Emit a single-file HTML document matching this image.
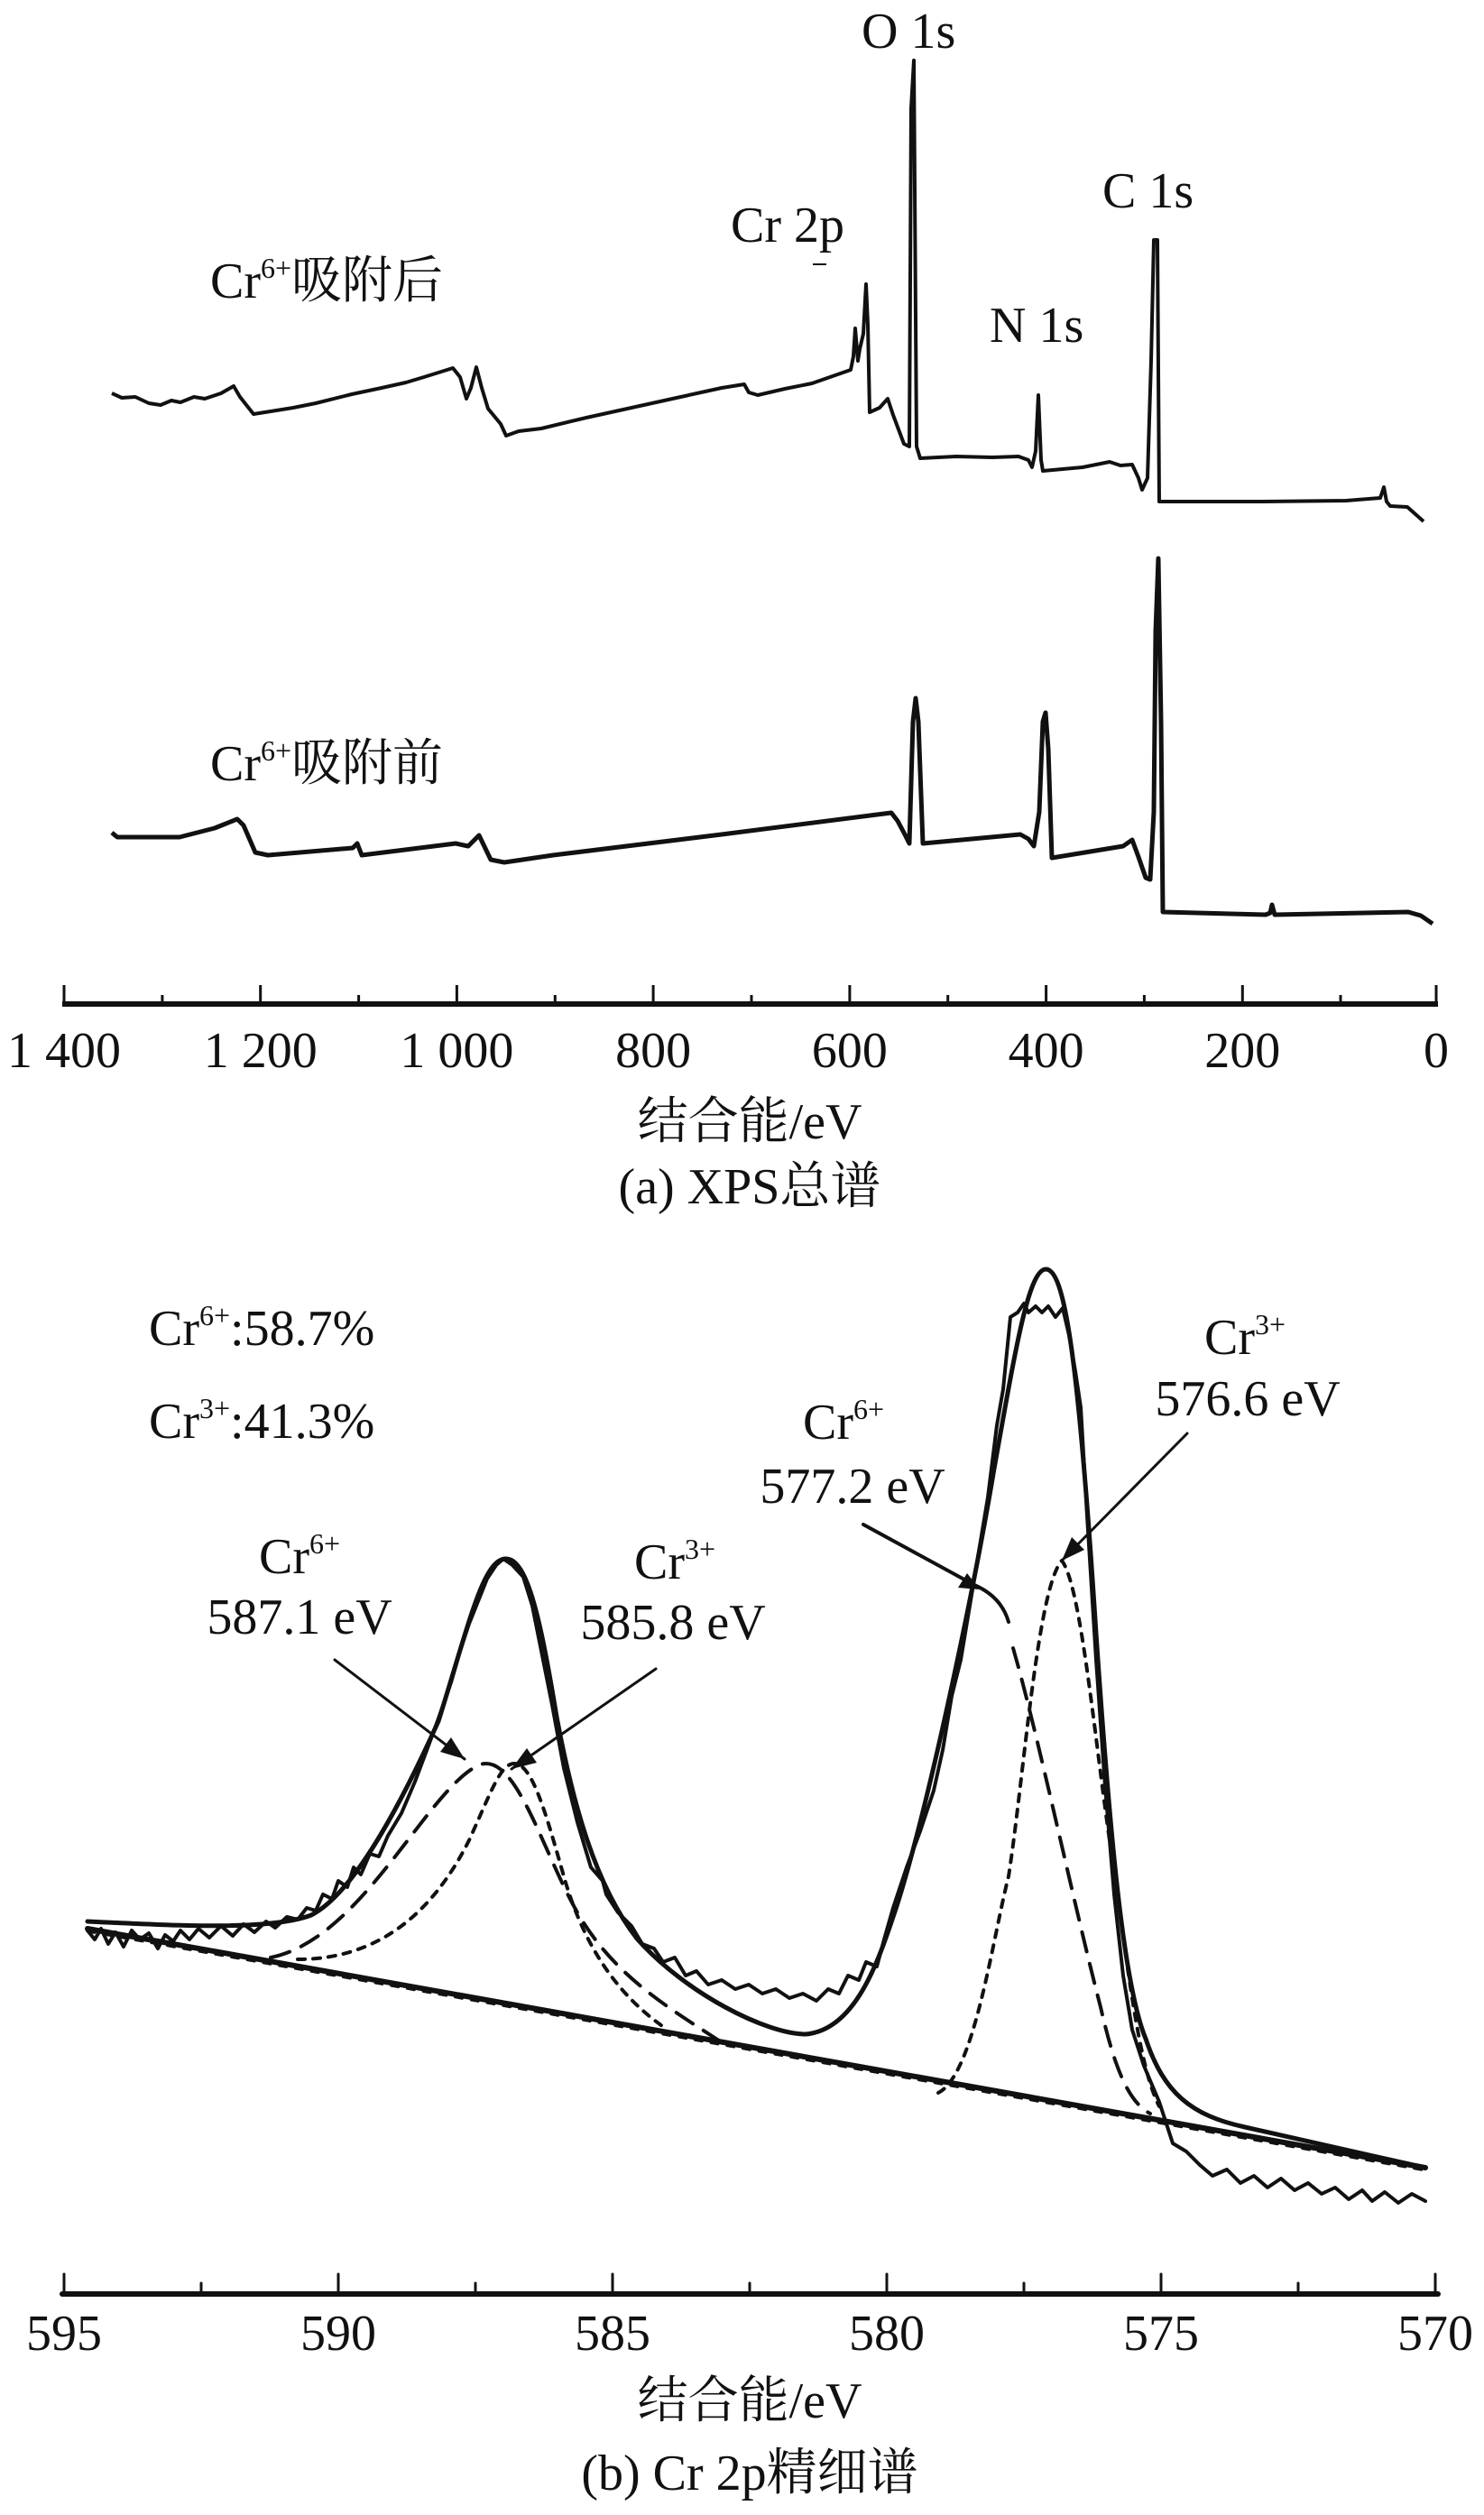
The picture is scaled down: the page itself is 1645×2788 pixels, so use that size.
<!DOCTYPE html>
<html><head><meta charset="utf-8"><style>
html,body{margin:0;padding:0;background:#fff;}
svg{display:block;}
text{font-family:"Liberation Serif","Noto Serif CJK SC","Noto Sans CJK SC",serif;fill:#111;}
</style></head><body>
<svg width="1645" height="2788" viewBox="0 0 1645 2788" xmlns="http://www.w3.org/2000/svg">
<!-- ============ (a) ============ -->
<g fill="none" stroke="#111" stroke-linejoin="round">
<path stroke-width="4" d="M124 436 L135 441 L150 440 L165 447 L178 449 L190 444 L200 446 L215 440 L227 442 L245 436 L259 428 L266 440 L281 459 L300 456 L325 452 L350 447 L390 437 L423 430 L450 424 L470 418 L502 408 L510 418 L517 442 L522 430 L528 407 L534 430 L541 453 L555 470 L561 483 L575 478 L600 475 L650 463 L700 452 L750 441 L800 430 L825 426 L830 435 L840 438 L870 431 L900 425 L943 410 L946 395 L948 364 L951 400 L953 387 L957 370 L960 315 L962 360 L964 457 L975 452 L984 442 L990 460 L1002 492 L1008 495 L1010 120 L1013 67 L1016 495 L1020 508 L1060 506 L1100 507 L1129 506 L1140 510 L1144 518 L1148 500 L1151 438 L1154 510 L1156 522 L1200 518 L1230 512 L1242 516 L1255 515 L1262 530 L1266 543 L1272 530 L1276 400 L1279 266 L1283 266 L1285 556 L1400 556 L1492 555 L1530 552 L1534 540 L1537 556 L1541 561 L1560 562 L1578 578"/>
<path stroke-width="5" d="M124 923 L130 928 L199 928 L238 918 L263 908 L270 915 L283 945 L297 948 L391 940 L396 935 L401 948 L505 935 L519 938 L531 926 L544 953 L559 956 L613 948 L800 925 L988 901 L995 910 L1003 925 L1008 935 L1012 800 L1015 774 L1018 800 L1023 935 L1131 925 L1140 930 L1146 938 L1152 900 L1156 800 L1159 790 L1162 830 L1166 951 L1245 938 L1255 931 L1262 950 L1270 973 L1275 975 L1279 900 L1281 700 L1284 619 L1287 800 L1289 1011 L1403 1014 L1408 1012 L1410 1003 L1413 1014 L1561 1011 L1575 1015 L1588 1024"/>
<line x1="69" y1="1113" x2="1594" y2="1113" stroke-width="6"/>
<path stroke-width="3" d="M71 1092V1113 M288.7 1092V1113 M506.4 1092V1113 M724.1 1092V1113 M941.9 1092V1113 M1159.6 1092V1113 M1377.3 1092V1113 M1592 1092V1113 M179.9 1103V1113 M397.6 1103V1113 M615.3 1103V1113 M833 1103V1113 M1050.7 1103V1113 M1268.4 1103V1113 M1486 1103V1113"/>
</g>
<g font-size="56">
<text x="955" y="53">O 1s</text>
<text x="1222" y="230">C 1s</text>
<text x="1097" y="379">N 1s</text>
<text x="810" y="268">Cr 2p</text>
<text x="233" y="330">Cr<tspan font-size="32" dy="-22">6+</tspan><tspan dy="22">吸附后</tspan></text>
<text x="233" y="865">Cr<tspan font-size="32" dy="-22">6+</tspan><tspan dy="22">吸附前</tspan></text>
</g>
<line x1="901" y1="293" x2="916" y2="293" stroke="#111" stroke-width="2"/>
<g font-size="56" text-anchor="middle">
<text x="71" y="1183">1 400</text><text x="288.7" y="1183">1 200</text><text x="506.4" y="1183">1 000</text>
<text x="724.1" y="1183">800</text><text x="941.9" y="1183">600</text><text x="1159.6" y="1183">400</text>
<text x="1377.3" y="1183">200</text><text x="1592" y="1183">0</text>
<text x="831" y="1262">结合能/eV</text>
<text x="831" y="1334">(a) XPS总谱</text>
</g>
<!-- ============ (b) ============ -->
<g fill="none" stroke="#111" stroke-linejoin="round" stroke-linecap="round">
<path stroke-width="6" d="M97 2138 L1580 2403"/>
<path stroke-width="3" stroke-dasharray="8 10" d="M97 2141 L1580 2406"/>
<path stroke-width="5" d="M97 2130 C200 2135,300 2140,345 2123 C390 2100,440 2010,486 1908 C520 1800,535 1730,560 1728 C585 1726,600 1800,617 1903 C635 2000,660 2090,706 2149 C760 2210,850 2255,893 2255 C950 2250,975 2170,994 2113 C1030 2000,1080 1760,1102 1628 C1125 1500,1140 1405,1160 1407 C1180 1409,1195 1500,1215 1811 C1230 2030,1245 2200,1270 2260 C1290 2320,1320 2345,1380 2358 L1580 2403"/>
<path stroke-width="4" d="M97 2140 L105 2150 L112 2138 L120 2155 L128 2142 L137 2158 L146 2140 L155 2150 L165 2143 L175 2160 L183 2145 L192 2152 L200 2140 L210 2150 L220 2138 L232 2148 L245 2135 L258 2146 L270 2133 L282 2142 L295 2130 L305 2137 L318 2125 L330 2128 L340 2115 L350 2118 L358 2100 L368 2105 L375 2085 L385 2092 L392 2070 L400 2078 L410 2055 L420 2058 L430 2035 L445 2010 L460 1975 L475 1935 L486 1905 L500 1865 L510 1830 L520 1800 L530 1775 L540 1750 L550 1735 L558 1728 L568 1735 L580 1748 L590 1780 L600 1830 L612 1890 L625 1960 L640 2020 L655 2070 L668 2085 L672 2100 L685 2120 L700 2135 L712 2155 L725 2160 L735 2175 L748 2170 L760 2190 L772 2185 L785 2200 L800 2195 L815 2205 L830 2200 L845 2210 L860 2205 L875 2215 L890 2210 L905 2218 L918 2205 L930 2210 L940 2190 L952 2195 L960 2175 L972 2180 L980 2150 L990 2115 L1005 2070 L1020 2030 L1035 1985 L1045 1940 L1055 1880 L1065 1840 L1075 1780 L1085 1720 L1095 1660 L1105 1580 L1112 1540 L1120 1460 L1128 1455 L1135 1445 L1140 1455 L1148 1448 L1155 1455 L1162 1448 L1170 1460 L1178 1450 L1185 1480 L1192 1520 L1198 1560 L1205 1680 L1215 1840 L1225 1980 L1235 2100 L1245 2190 L1255 2250 L1268 2290 L1285 2330 L1300 2376 L1315 2385 L1330 2400 L1344 2412 L1360 2405 L1375 2420 L1390 2412 L1405 2425 L1420 2415 L1435 2428 L1450 2420 L1465 2432 L1480 2425 L1495 2438 L1510 2428 L1521 2440 L1535 2430 L1550 2442 L1565 2432 L1580 2440"/>
<path stroke-width="4" stroke-dasharray="22 14" d="M300 2170 C400 2150,470 1990,528 1958 C570 1935,600 2050,640 2120 C680 2190,740 2225,800 2264"/>
<path stroke-width="4" stroke-dasharray="8 9" d="M330 2172 C420 2172,480 2120,520 2040 C545 1985,555 1955,570 1955 C590 1955,605 2010,625 2080 C645 2150,680 2210,740 2250"/>
<path stroke-width="4" stroke-dasharray="22 14" d="M1123 1827 C1150 1920,1190 2110,1220 2225 C1235 2290,1250 2330,1275 2343"/>
<path stroke-width="4" stroke-dasharray="8 9" d="M1040 2320 C1080 2300,1100 2150,1118 2080 C1135 1970,1150 1760,1177 1730 C1200 1760,1215 1950,1236 2080 C1250 2180,1262 2290,1285 2335"/>
<path stroke-width="3" d="M371 1840 L515 1950"/>
<path stroke-width="3" d="M727 1850 L567 1961"/>
<path stroke-width="4" d="M957 1690 L1080 1757 Q1110 1770 1118 1798"/>
<path stroke-width="3" d="M1316 1589 L1177 1730"/>
<line x1="69" y1="2543" x2="1594" y2="2543" stroke-width="6"/>
<path stroke-width="3" d="M71 2521V2543 M375 2521V2543 M679 2521V2543 M983 2521V2543 M1287 2521V2543 M1591 2521V2543 M223 2531V2543 M527 2531V2543 M831 2531V2543 M1135 2531V2543 M1439 2531V2543"/>
</g>
<g fill="#111">
<path d="M515 1950 L488 1942 L500 1926 Z"/>
<path d="M567 1961 L584 1938 L595 1954 Z"/>
<path d="M1086 1762 L1062 1760 L1072 1744 Z"/>
<path d="M1177 1730 L1188 1704 L1202 1718 Z"/>
</g>
<g font-size="56">
<text x="165" y="1491">Cr<tspan font-size="32" dy="-22">6+</tspan><tspan dy="22">:58.7%</tspan></text>
<text x="165" y="1594">Cr<tspan font-size="32" dy="-22">3+</tspan><tspan dy="22">:41.3%</tspan></text>
</g>
<g font-size="56" text-anchor="middle">
<text x="332" y="1744">Cr<tspan font-size="32" dy="-22">6+</tspan></text>
<text x="332" y="1811">587.1 eV</text>
<text x="748" y="1750">Cr<tspan font-size="32" dy="-22">3+</tspan></text>
<text x="746" y="1817">585.8 eV</text>
<text x="935" y="1595">Cr<tspan font-size="32" dy="-22">6+</tspan></text>
<text x="945" y="1666">577.2 eV</text>
<text x="1380" y="1501">Cr<tspan font-size="32" dy="-22">3+</tspan></text>
<text x="1383" y="1569">576.6 eV</text>
<text x="71" y="2605">595</text><text x="375" y="2605">590</text><text x="679" y="2605">585</text>
<text x="983" y="2605">580</text><text x="1287" y="2605">575</text><text x="1591" y="2605">570</text>
<text x="831" y="2680">结合能/eV</text>
<text x="831" y="2760">(b) Cr 2p精细谱</text>
</g>
</svg>
</body></html>
